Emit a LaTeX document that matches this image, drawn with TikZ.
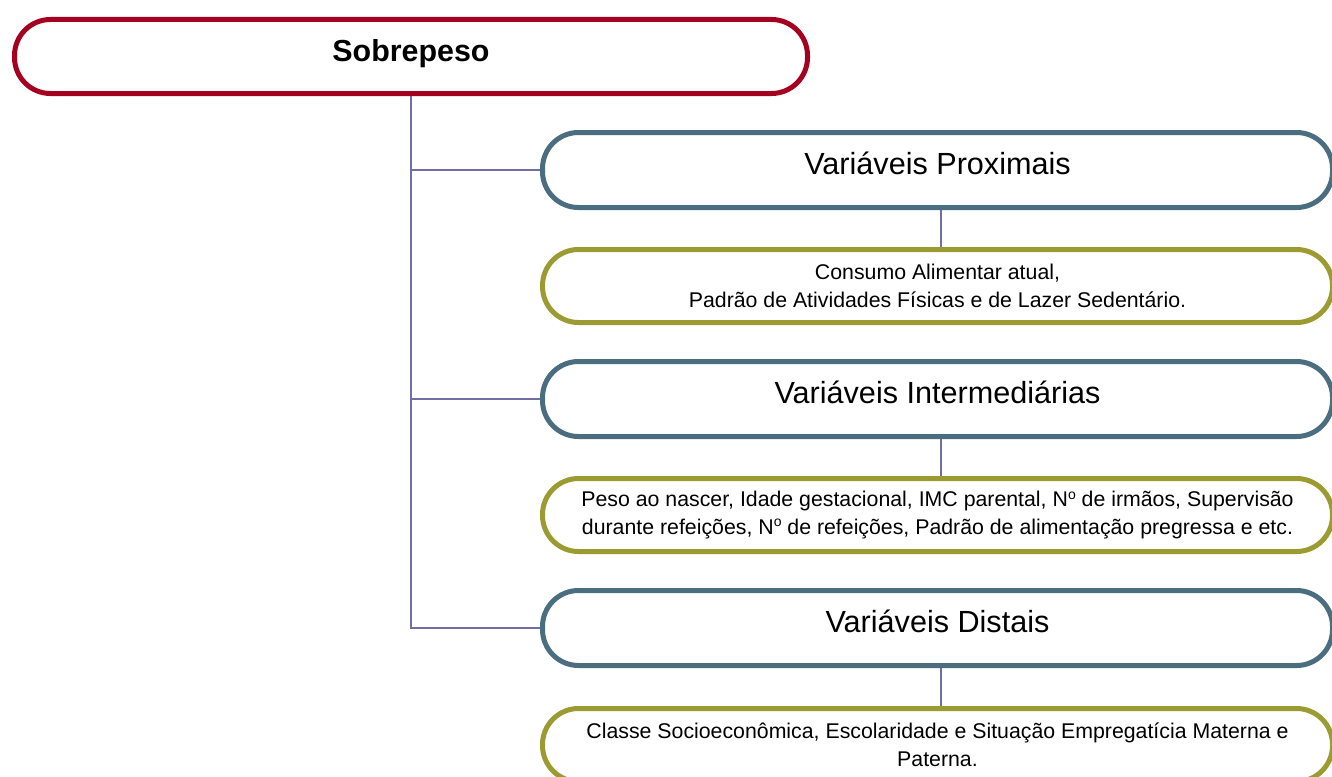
\documentclass[tikz,border=0pt]{standalone}
\usepackage{fontspec}
\setmainfont{Liberation Sans}
\usetikzlibrary{backgrounds}
\definecolor{redc}{RGB}{166,0,33}
\definecolor{bluec}{RGB}{75,109,128}
\definecolor{olivec}{RGB}{155,155,50}
\definecolor{linkc}{RGB}{112,110,162}
\newcommand{\supo}{{\fontsize{14}{14}\selectfont\raisebox{0.55em}{o}}}
\begin{document}
\begin{tikzpicture}[x=1pt,y=-1pt,
  box/.style={draw, line width=5pt, rounded corners=36pt, fill=white, inner sep=0pt, align=center},
  topbox/.style={box, draw=redc, minimum width=793pt, minimum height=74pt, font=\fontsize{30.4}{36}\selectfont\bfseries, text height=22pt, text depth=12pt},
  catbox/.style={box, draw=bluec, minimum width=790pt, minimum height=75pt, font=\fontsize{30.6}{36}\selectfont, text height=22pt, text depth=14pt},
  detbox/.style={box, draw=olivec, minimum width=790pt, minimum height=73pt, font=\fontsize{21.3}{27.5}\selectfont},
  link/.style={draw=linkc, line width=2pt}]
\useasboundingbox (0,0) rectangle (1332,776);
\node[topbox] (s) at (411,56.5) {Sobrepeso};
\node[catbox] (p) at (937.5,170) {Variáveis Proximais};
\node[detbox] (pd) at (937.5,286) {Consumo Alimentar atual,\\Padrão de Atividades Físicas e de Lazer Sedentário.};
\node[catbox] (i) at (937.5,399) {Variáveis Intermediárias};
\node[detbox] (id) at (937.5,515) {Peso ao nascer, Idade gestacional, IMC parental, N\supo{} de irmãos, Supervisão\\durante refeições, N\supo{} de refeições, Padrão de alimentação pregressa e etc.};
\node[catbox] (d) at (937.5,628) {Variáveis Distais};
\node[detbox] (dd) at (937.5,745) {Classe Socioeconômica, Escolaridade e Situação Empregatícia Materna e\\Paterna.};
\begin{scope}[on background layer]
\draw[link] (s.south) |- (d.west);
\draw[link] (s.south |- p.west) -- (p.west);
\draw[link] (s.south |- i.west) -- (i.west);
\draw[link] ([xshift=3pt]p.south) -- ([xshift=3pt]pd.north);
\draw[link] ([xshift=3pt]i.south) -- ([xshift=3pt]id.north);
\draw[link] ([xshift=3pt]d.south) -- ([xshift=3pt]dd.north);
\end{scope}
\end{tikzpicture}
\end{document}
